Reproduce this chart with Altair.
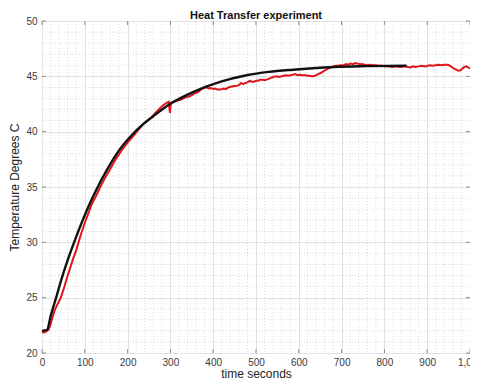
import altair as alt
import pandas as pd

# Model curve (black)
black_t = [0, 12, 20, 33, 45, 61, 77, 93, 108, 125, 151, 178, 210, 237, 260, 299, 354,
           416, 478, 530, 587, 640, 681, 760, 852]
black_T = [22.0, 22.1, 23.3, 25.0, 26.6, 28.5, 30.2, 31.8, 33.2, 34.6, 36.5, 38.2, 39.7,
           40.7, 41.4, 42.5, 43.6, 44.5, 45.1, 45.4, 45.6, 45.75, 45.85, 45.92, 45.95]

# Measured data (red)
red_t = [0, 5, 10, 15, 20, 25, 30, 35, 40, 44, 50, 60, 73, 80, 90, 99, 108, 116, 125,
         135, 147, 159, 172, 186, 200, 215, 226, 237, 247, 256, 265, 275, 284, 291, 296,
         299, 301, 308, 315, 325, 335, 345, 354, 360, 365, 370, 375, 385, 390, 395, 400,
         405, 410, 416, 425, 430, 435, 441, 447, 455, 460, 465, 470, 475, 480, 486, 490,
         495, 500, 505, 510, 515, 520, 525, 531, 537, 542, 548, 554, 560, 565, 570, 575,
         580, 586, 592, 597, 603, 609, 615, 620, 625, 630, 634, 640, 645, 651, 657, 662,
         668, 674, 681, 686, 692, 698, 705, 710, 715, 721, 727, 732, 738, 744, 750, 758,
         766, 772, 780, 787, 795, 802, 810, 818, 829, 835, 840, 847, 855, 861, 867, 873,
         880, 887, 895, 901, 907, 913, 920, 927, 935, 940, 946, 951, 955, 959, 963, 968,
         973, 978, 982, 987, 992, 996, 1000]
red_T = [21.9, 21.85, 21.95, 22.1, 22.6, 23.3, 23.9, 24.3, 24.7, 25.0, 25.7, 27.0, 28.55,
         29.3, 30.6, 31.66, 32.6, 33.44, 34.1, 34.9, 35.8, 36.6, 37.5, 38.3, 39.0, 39.7,
         40.2, 40.7, 41.0, 41.3, 41.7, 42.1, 42.4, 42.6, 42.7, 41.7, 42.6, 42.7, 42.8,
         42.9, 43.1, 43.2, 43.4, 43.5, 43.6, 43.75, 43.9, 44.0, 43.9, 43.95, 43.85, 43.9,
         43.8, 43.8, 43.9, 43.85, 44.0, 44.05, 44.1, 44.15, 44.2, 44.4, 44.3, 44.4, 44.45,
         44.6, 44.5, 44.5, 44.6, 44.6, 44.7, 44.7, 44.65, 44.7, 44.8, 44.9, 44.95, 45.0,
         44.95, 45.0, 45.05, 45.1, 45.05, 45.1, 45.15, 45.2, 45.1, 45.15, 45.1, 45.1,
         45.05, 45.05, 45.0, 45.0, 45.1, 45.2, 45.3, 45.45, 45.55, 45.7, 45.8, 45.9, 45.95,
         45.95, 46.0, 46.0, 46.1, 46.05, 46.15, 46.1, 46.2, 46.15, 46.1, 46.1, 46.0,
         46.05, 46.0, 46.0, 45.95, 45.95, 45.9, 45.9, 45.85, 45.9, 45.85, 45.85, 45.9,
         45.85, 45.8, 45.9, 45.85, 45.9, 45.95, 45.9, 45.95, 46.0, 45.95, 46.0, 46.05,
         46.0, 46.05, 46.05, 46.0, 45.9, 45.8, 45.7, 45.6, 45.5, 45.55, 45.7, 45.85, 45.9,
         45.8, 45.7]

x_ticks = list(range(0, 1001, 100))
y_ticks = list(range(20, 51, 5))
x_minor = [v for v in range(0, 1001, 20) if v % 100]
y_minor = [v for v in range(20, 51) if v % 5]

FONT = "Liberation Sans"
W, H = 428, 332
xs = alt.Scale(domain=[0, 1000], nice=False, zero=False)
ys = alt.Scale(domain=[20, 50], nice=False, zero=False)
common = dict(grid=True, gridColor="#e2e2e2", gridWidth=1, tickSize=0, domain=False,
              labelFontSize=10, labelColor="#3a3a3a", titleFontSize=12,
              titleFontWeight="normal", titleColor="#222", labelFont=FONT,
              titleFont=FONT, labelFlush=False)
xaxis = alt.Axis(values=x_ticks, title="time seconds", labelPadding=4, titlePadding=1,
                 **common)
yaxis = alt.Axis(values=y_ticks, title="Temperature Degrees C", labelPadding=5,
                 titlePadding=4, **common)
X = alt.X("t:Q", scale=xs, axis=xaxis)
Y = alt.Y("T:Q", scale=ys, axis=yaxis)

df_black = pd.DataFrame({"t": black_t, "T": black_T})
df_red = pd.DataFrame({"t": red_t, "T": red_T})

minor_x = alt.Chart(pd.DataFrame({"t": x_minor})).mark_rule(
    color="#d0d0d0", strokeDash=[1, 2], strokeWidth=0.8).encode(x=X)
minor_y = alt.Chart(pd.DataFrame({"T": y_minor})).mark_rule(
    color="#d0d0d0", strokeDash=[1, 2], strokeWidth=0.8).encode(y=Y)

tick_color = "#8a8a8a"
ticks_top = alt.Chart(pd.DataFrame({"t": x_ticks})).mark_rule(color=tick_color).encode(
    x=X, y=alt.value(0), y2=alt.value(4))
ticks_bot = alt.Chart(pd.DataFrame({"t": x_ticks})).mark_rule(color=tick_color).encode(
    x=X, y=alt.value(H - 4), y2=alt.value(H))
ticks_left = alt.Chart(pd.DataFrame({"T": y_ticks})).mark_rule(color=tick_color).encode(
    y=Y, x=alt.value(0), x2=alt.value(4))
ticks_right = alt.Chart(pd.DataFrame({"T": y_ticks})).mark_rule(color=tick_color).encode(
    y=Y, x=alt.value(W - 4), x2=alt.value(W))

red = alt.Chart(df_red).mark_line(color="#e0141b", strokeWidth=2).encode(
    x=X, y=Y, order="t:Q")
black = alt.Chart(df_black).mark_line(color="#111111", strokeWidth=2.4,
                                      interpolate="monotone").encode(x=X, y=Y, order="t:Q")

chart = alt.layer(minor_x, minor_y, ticks_top, ticks_bot, ticks_left, ticks_right,
                  red, black).properties(
    width=W, height=H,
    title=alt.TitleParams("Heat Transfer experiment", fontSize=11, fontWeight="bold",
                          font=FONT, color="#111", offset=1, dy=6, anchor="middle"),
    autosize=alt.AutoSizeParams(type="none"),
    padding={"left": 34, "top": 13, "right": 0, "bottom": 27},
).configure_view(stroke="#8c8c8c", strokeWidth=1).configure(background="white")

chart.save("out.html", embed_options={"renderer": "svg", "actions": False})
